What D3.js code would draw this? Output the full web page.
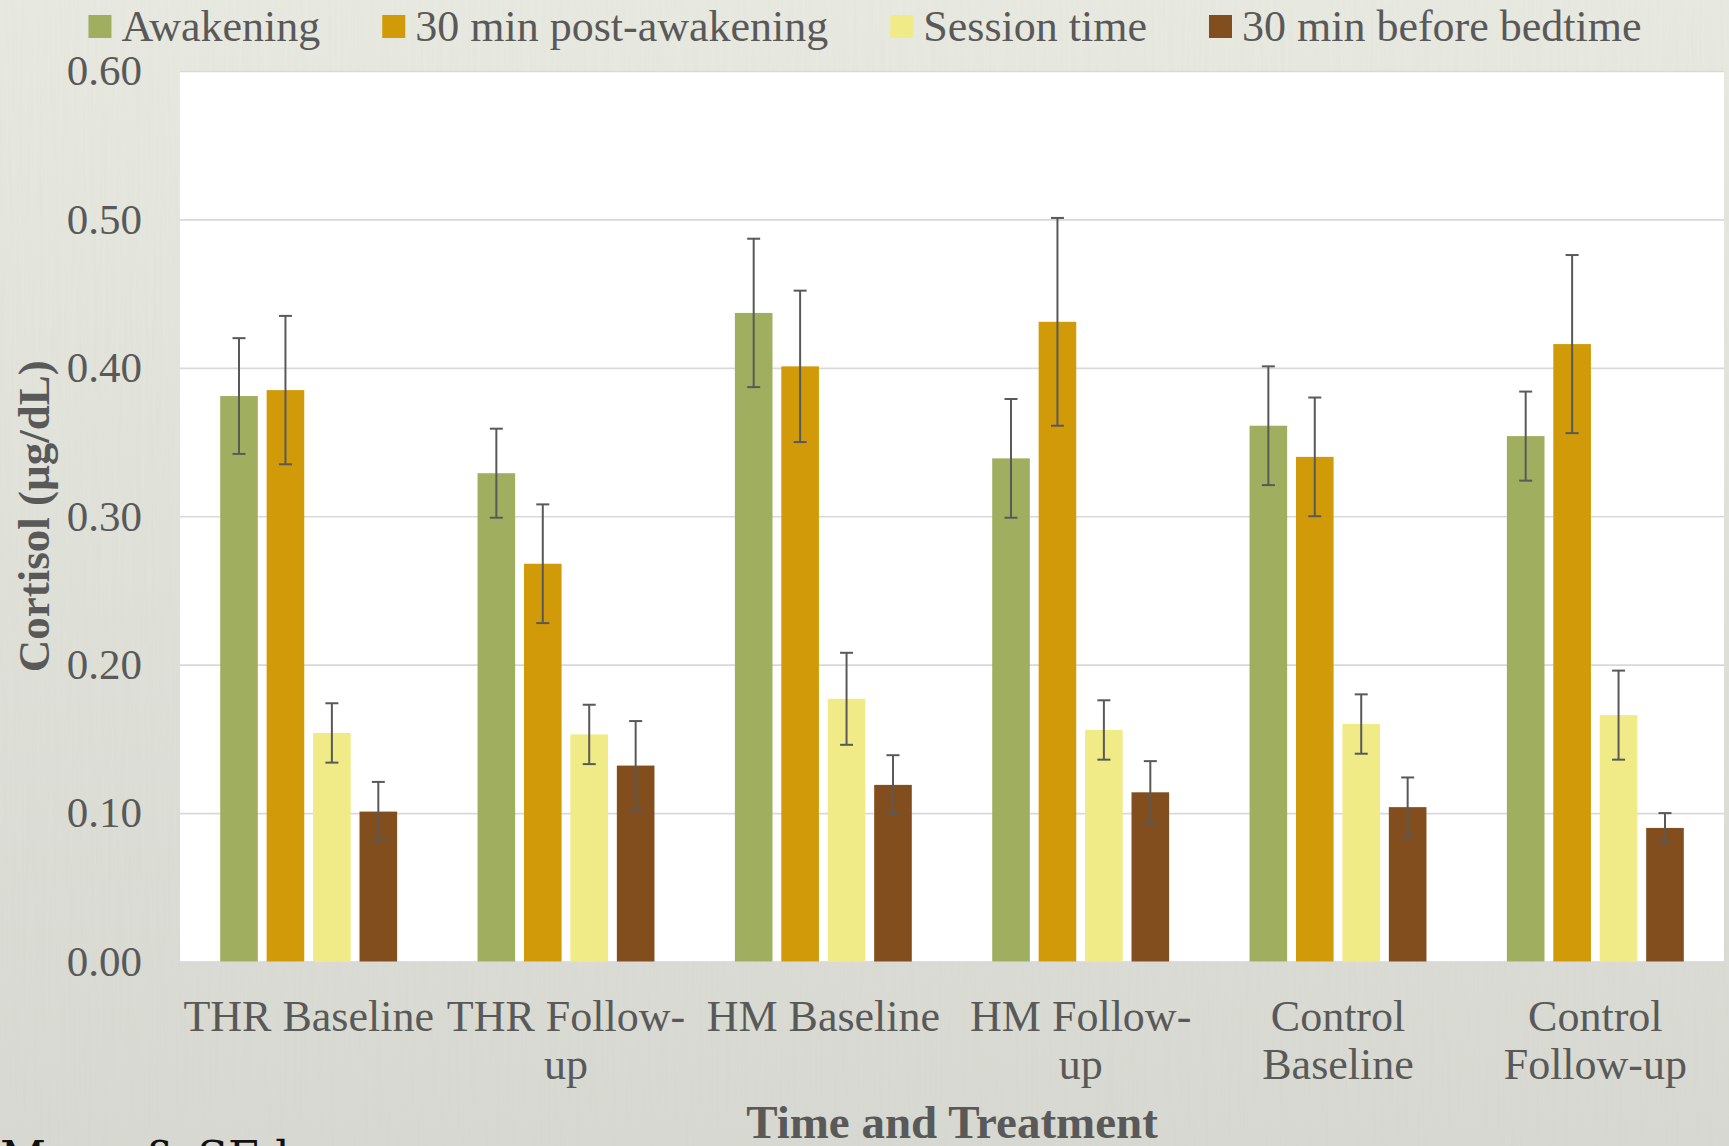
<!DOCTYPE html>
<html>
<head>
<meta charset="utf-8">
<script src="https://cdn.jsdelivr.net/npm/d3@7"></script>
<style>
  html, body { margin: 0; padding: 0; overflow: hidden; }
  svg { display: block; }
  text { font-family: "Liberation Serif", "Times New Roman", serif; }
</style>
</head>
<body>
<div id="chart"></div>
<script>
const categories = ["THR Baseline", "THR Follow-up", "HM Baseline", "HM Follow-up", "Control Baseline", "Control Follow-up"];
const categoryLines = [["THR Baseline"], ["THR Follow-", "up"], ["HM Baseline"], ["HM Follow-", "up"], ["Control", "Baseline"], ["Control", "Follow-up"]];
const seriesNames = ["Awakening", "30 min post-awakening", "Session time", "30 min before bedtime"];
const seriesColors = ["#a0af5f", "#d19a09", "#f0eb87", "#824e1d"];

const awakening     = [0.381, 0.329, 0.437, 0.339, 0.361, 0.354];
const postAwakening = [0.385, 0.268, 0.401, 0.431, 0.340, 0.416];
const sessionTime   = [0.154, 0.153, 0.177, 0.156, 0.160, 0.166];
const beforeBed     = [0.101, 0.132, 0.119, 0.114, 0.104, 0.090];

const awakeningSE     = [0.039, 0.030, 0.050, 0.040, 0.040, 0.030];
const postAwakeningSE = [0.050, 0.040, 0.051, 0.070, 0.040, 0.060];
const sessionTimeSE   = [0.020, 0.020, 0.031, 0.020, 0.020, 0.030];
const beforeBedSE     = [0.020, 0.030, 0.020, 0.021, 0.020, 0.010];

const yTicks = [0, 0.1, 0.2, 0.3, 0.4, 0.5, 0.6];

const means = [awakening, postAwakening, sessionTime, beforeBed];
const ses = [awakeningSE, postAwakeningSE, sessionTimeSE, beforeBedSE];

const W = 1729, H = 1146;
const plot = { left: 180, right: 1724, top: 71, bottom: 961.5 };

const svg = d3.select("#chart").append("svg")
  .attr("width", W).attr("height", H);

// background
const defs = svg.append("defs");
const grad = defs.append("linearGradient").attr("id", "bg")
  .attr("x1", 0).attr("y1", 0).attr("x2", 0).attr("y2", 1);
grad.append("stop").attr("offset", "0%").attr("stop-color", "#e9eae1");
grad.append("stop").attr("offset", "100%").attr("stop-color", "#d8d9d2");
const noise = defs.append("filter").attr("id", "grain")
  .attr("x", 0).attr("y", 0).attr("width", "100%").attr("height", "100%");
noise.append("feTurbulence").attr("type", "fractalNoise")
  .attr("baseFrequency", "0.35 0.008").attr("numOctaves", 2).attr("seed", 3);
noise.append("feColorMatrix").attr("type", "matrix")
  .attr("values", "0 0 0 0 0.55  0 0 0 0 0.56  0 0 0 0 0.5  0 0 0 0.12 0");

svg.append("rect").attr("width", W).attr("height", H).attr("fill", "url(#bg)");
svg.append("rect").attr("width", W).attr("height", H).attr("filter", "url(#grain)");

// plot area
svg.append("rect")
  .attr("x", plot.left).attr("y", plot.top)
  .attr("width", plot.right - plot.left).attr("height", plot.bottom - plot.top)
  .attr("fill", "#ffffff");

const y = d3.scaleLinear().domain([0, 0.6]).range([plot.bottom, plot.top]);
const x0 = d3.scaleBand().domain(categories).range([plot.left, plot.right])
  .paddingInner(0.3125).paddingOuter(0.15625);
const x1 = d3.scaleBand().domain(seriesNames).range([0, x0.bandwidth()])
  .paddingInner(0.19);

// gridlines
svg.append("g")
  .attr("transform", `translate(${plot.left},0)`)
  .call(d3.axisLeft(y).tickValues(yTicks).tickSize(-(plot.right - plot.left)).tickFormat(""))
  .call(g => g.select(".domain").remove())
  .call(g => g.selectAll("line").attr("stroke", "#d9d9d9").attr("stroke-width", 1.6));

// y tick labels
svg.append("g")
  .attr("transform", `translate(${plot.left},0)`)
  .call(d3.axisLeft(y).tickValues(yTicks).tickSize(0).tickPadding(38).tickFormat(d3.format(".2f")))
  .call(g => g.select(".domain").remove())
  .call(g => g.selectAll("text")
    .attr("fill", "#595959")
    .style("font-family", "'Liberation Serif', serif")
    .style("font-size", "43px"));

// bars
const rows = categories.map((c, i) => ({
  cat: c,
  vals: seriesNames.map((s, j) => ({ s, j, v: means[j][i], se: ses[j][i] }))
}));

const groups = svg.append("g").selectAll("g")
  .data(rows).join("g")
  .attr("transform", d => `translate(${x0(d.cat)},0)`);

groups.selectAll("rect")
  .data(d => d.vals).join("rect")
  .attr("x", d => x1(d.s))
  .attr("y", d => y(d.v))
  .attr("width", x1.bandwidth())
  .attr("height", d => y(0) - y(d.v))
  .attr("fill", d => seriesColors[d.j]);

// error bars
const cap = 6.5;
const err = groups.selectAll("g.err")
  .data(d => d.vals).join("g").attr("class", "err")
  .attr("stroke", "#595959").attr("stroke-width", 2);
err.append("line")
  .attr("x1", d => x1(d.s) + x1.bandwidth() / 2)
  .attr("x2", d => x1(d.s) + x1.bandwidth() / 2)
  .attr("y1", d => y(d.v + d.se))
  .attr("y2", d => y(d.v - d.se));
err.append("line")
  .attr("x1", d => x1(d.s) + x1.bandwidth() / 2 - cap)
  .attr("x2", d => x1(d.s) + x1.bandwidth() / 2 + cap)
  .attr("y1", d => y(d.v + d.se))
  .attr("y2", d => y(d.v + d.se));
err.append("line")
  .attr("x1", d => x1(d.s) + x1.bandwidth() / 2 - cap)
  .attr("x2", d => x1(d.s) + x1.bandwidth() / 2 + cap)
  .attr("y1", d => y(d.v - d.se))
  .attr("y2", d => y(d.v - d.se));

// x axis labels
svg.append("g")
  .attr("transform", `translate(0,${plot.bottom})`)
  .call(d3.axisBottom(x0).tickSize(0))
  .call(g => g.select(".domain").remove())
  .call(g => g.selectAll("text").each(function (d, i) {
    const t = d3.select(this).text(null).attr("y", 0).attr("dy", null)
      .attr("fill", "#595959")
      .style("font-family", "'Liberation Serif', serif")
      .style("font-size", "44px");
    categoryLines[i].forEach((line, k) => {
      t.append("tspan").attr("x", 0).attr("y", 69.5 + k * 48).text(line);
    });
  }));

// axis titles
svg.append("text")
  .attr("x", (plot.left + plot.right) / 2).attr("y", 1138)
  .attr("text-anchor", "middle")
  .attr("fill", "#595959")
  .style("font-size", "47px").style("font-weight", "bold")
  .text("Time and Treatment");

svg.append("text")
  .attr("transform", `translate(49,${(plot.top + plot.bottom) / 2}) rotate(-90)`)
  .attr("text-anchor", "middle")
  .attr("fill", "#595959")
  .style("font-size", "45px").style("font-weight", "bold")
  .text("Cortisol (µg/dL)");

// legend
const legend = svg.append("g");
const items = seriesNames.map((name, i) => {
  const g = legend.append("g");
  g.append("rect").attr("width", 23).attr("height", 23).attr("y", 15)
    .attr("fill", seriesColors[i]);
  const t = g.append("text").attr("x", 33).attr("y", 41)
    .attr("fill", "#595959").style("font-size", "44px").text(name);
  return { g, w: 33 + t.node().getComputedTextLength() };
});
const gap = 62;
const total = d3.sum(items, d => d.w) + gap * (items.length - 1);
let cx = 865 - total / 2;
items.forEach(it => {
  it.g.attr("transform", `translate(${cx},0)`);
  cx += it.w + gap;
});

// note cut off at bottom
svg.append("text")
  .attr("x", 0).attr("y", 1173)
  .attr("fill", "#111")
  .style("font-family", "'DejaVu Serif', serif")
  .style("font-size", "45px")
  .text("Mean & SE bars");
</script>
</body>
</html>
